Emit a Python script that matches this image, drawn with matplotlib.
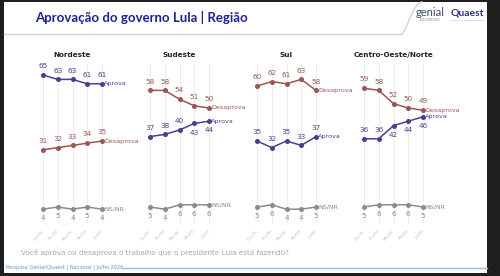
import matplotlib
matplotlib.use("Agg")
import matplotlib.pyplot as plt
from matplotlib.patches import Rectangle
import numpy as np

regions = ["Nordeste", "Sudeste", "Sul", "Centro-Oeste/Norte"]
months = ["Dez/25", "Fev/26", "Mar/26", "Mai/26", "Jul/26"]
aprova = [[65, 63, 63, 61, 61], [37, 38, 40, 43, 44], [35, 32, 35, 33, 37], [36, 36, 42, 44, 46]]
desaprova = [[31, 32, 33, 34, 35], [58, 58, 54, 51, 50], [60, 62, 61, 63, 58], [59, 58, 52, 50, 49]]
nsnr = [[4, 5, 4, 5, 4], [5, 4, 6, 6, 6], [5, 6, 4, 4, 5], [5, 6, 6, 6, 5]]

# label placement (a = above, b = below)
aprova_pos = [["a"] * 5, ["a", "a", "a", "b", "b"], ["a"] * 5, ["a", "a", "b", "b", "b"]]

C_AP = "#45438f"
C_DE = "#9a5652"
C_NS = "#8c8c8c"

W, H = 500, 276
fig = plt.figure(figsize=(5, 2.76), dpi=100)
fig.patch.set_facecolor("#1e1e1e")

def fx(px):
    return px / W

def fy(py):
    return 1 - py / H

# white page
bg = fig.add_axes([0, 0, 1, 1])
bg.set_xlim(0, W)
bg.set_ylim(H, 0)
bg.axis("off")
bg.add_patch(Rectangle((4, 2), 483, 271, facecolor="white", edgecolor="none"))

# header
bg.text(35, 17, "Aprovação do governo Lula | Região", fontsize=9.5, fontweight="bold",
        color="#1f2190", family="Lato", ha="left", va="center")
t = np.linspace(0, 1, 50)
bg.plot([4, 402], [34, 34], color="#c9d5e2", lw=1.0)
bg.plot(402 + 20 * t, 34 - 32 * np.sin(t * np.pi / 2) ** 1.3, color="#c9d5e2", lw=1.0)
bg.text(430, 13, "genial", fontsize=8, color="#3c4a6e", family="Lato", ha="center", va="center")
bg.text(430, 20, "INVESTIMENTOS", fontsize=1.8, color="#7d8aa6", ha="center", va="center")
bg.text(467, 13, "Quaest", fontsize=7.5, color="#2c3470", fontweight="bold", family="Lato",
        ha="center", va="center")
bg.text(467, 20, "pesquisa, consultoria e análise", fontsize=1.6, color="#7d8aa6", ha="center", va="center")

# question & footer
bg.text(21, 252, "Você aprova ou desaprova o trabalho que o presidente Lula está fazendo?",
        fontsize=5.2, color="#a8a8a8", ha="left", va="center")
bg.text(6, 267.5, "Pesquisa Genial/Quaest | Nacional | Julho 2026", fontsize=3.6,
        color="#5f95c9", ha="left", va="center")
bg.plot([123, 487], [268, 268], color="#9dbfdb", lw=1.0)

# panels
lefts = [43, 150, 257, 364]
pw = 59
for i, reg in enumerate(regions):
    ax = fig.add_axes([fx(lefts[i]), fy(218), fx(pw), (218 - 64) / H])
    ax.set_xlim(0, 4)
    ax.set_ylim(0, 70)
    ax.axis("off")
    x = np.arange(len(months))
    for xi in x:
        ax.plot([xi, xi], [-2, 70], color="#ececec", lw=0.7, zorder=0, clip_on=False)
    ax.text(2, 74, reg, fontsize=5.2, fontweight="bold", color="#222222", ha="center",
            va="center", clip_on=False)
    for vals, col, name in [(desaprova[i], C_DE, "Desaprova"), (aprova[i], C_AP, "Aprova"),
                            (nsnr[i], C_NS, "NS/NR")]:
        ax.plot(x, vals, color=col, lw=1.1, marker="o", ms=2.6, clip_on=False, zorder=3)
        ax.text(4.15, vals[-1], name, fontsize=4.6, color=col, ha="left", va="center",
                clip_on=False)
        for j, v in enumerate(vals):
            if name == "NS/NR":
                pos = "b"
            elif name == "Aprova":
                pos = aprova_pos[i][j]
            else:
                pos = "a"
            dy = 2.6 if pos == "a" else -2.8
            ax.text(j, v + dy, str(v), fontsize=5.2, color=col, ha="center",
                    va="bottom" if pos == "a" else "top", clip_on=False)
    for j, m in enumerate(months):
        ax.text(j + 0.12, -5, m, fontsize=2.8, color="#bdbdbd", rotation=45,
                ha="right", va="top", clip_on=False)

fig.savefig("out.png", dpi=100, facecolor=fig.get_facecolor())
